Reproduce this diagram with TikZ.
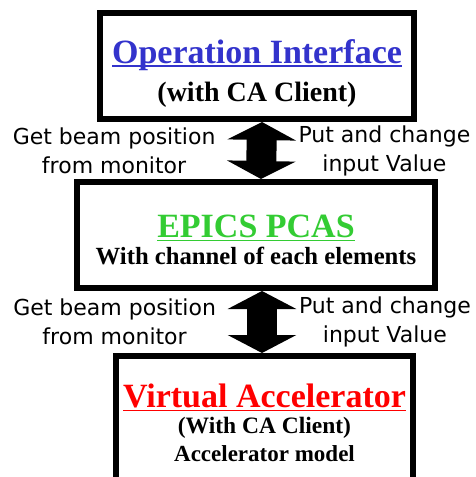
\documentclass[tikz,border=0pt]{standalone}
\usepackage{fontspec}
\setmainfont{Liberation Serif}
\newfontfamily\labelfont{DejaVu Sans}
\usepackage{xcolor}
\usetikzlibrary{arrows.meta}
\usetikzlibrary{positioning}
\definecolor{opblue}{RGB}{51,51,204}
\definecolor{pcasgreen}{RGB}{51,204,51}
\definecolor{vared}{RGB}{255,0,0}
\newcommand{\titleline}[1]{\setbox0\hbox{#1}\rlap{\rule[-3.5pt]{\wd0}{1.8pt}}\box0}

\begin{document}
\begin{tikzpicture}[x=1pt, y=-1pt,
    box/.style={draw, line width=6pt, fill=white, align=center, font=\bfseries, inner sep=0pt},
    bigarrow/.style={line width=30pt, {Triangle[width=68pt,length=18pt]}-{Triangle[width=68pt,length=18pt]}},
    side/.style={font=\labelfont\fontsize{22}{29}\selectfont, align=center, inner sep=0pt, outer sep=0pt}]
    \clip (0,0) rectangle (476,477);

    % Boxes
    \node[box, minimum width=314pt, minimum height=106pt] (opi) at (257,66)
        {\rule{0pt}{39pt}\fontsize{34}{38}\selectfont{\color{opblue}\titleline{Operation Interface}}\\[10pt]
         \fontsize{28}{30}\selectfont (with CA Client)};
    \node[box, minimum width=358pt, minimum height=106pt] (pcas) at (256,235)
        {\rule{0pt}{33pt}\fontsize{34}{38}\selectfont{\color{pcasgreen}\titleline{EPICS PCAS}}\\[5pt]
         \fontsize{24.7}{28}\selectfont With channel of each elements};
    \node[box, minimum width=297pt, minimum height=134pt] (vacc) at (264.5,423)
        {\fontsize{34}{38}\selectfont{\color{vared}\titleline{Virtual Accelerator}}\\[5pt]
         \fontsize{23.5}{29}\selectfont (With CA Client)\\[6pt]
         \fontsize{23}{29}\selectfont Accelerator model};

    % Arrows
    \draw[bigarrow] ([xshift=5pt]opi.south) -- ([xshift=5pt]pcas.north)
        node[midway, side, left=46pt] (getup) {Get beam position\\from monitor}
        node[midway, side, right=37pt] (putup) {Put and change\\input Value};
    \draw[bigarrow] ([xshift=6pt]pcas.south) -- ([xshift=6pt]pcas.south |- vacc.north)
        node[midway, side, left=46pt] (getdown) {Get beam position\\from monitor}
        node[midway, side, right=37pt] (putdown) {Put and change\\input Value};
\end{tikzpicture}
\end{document}
